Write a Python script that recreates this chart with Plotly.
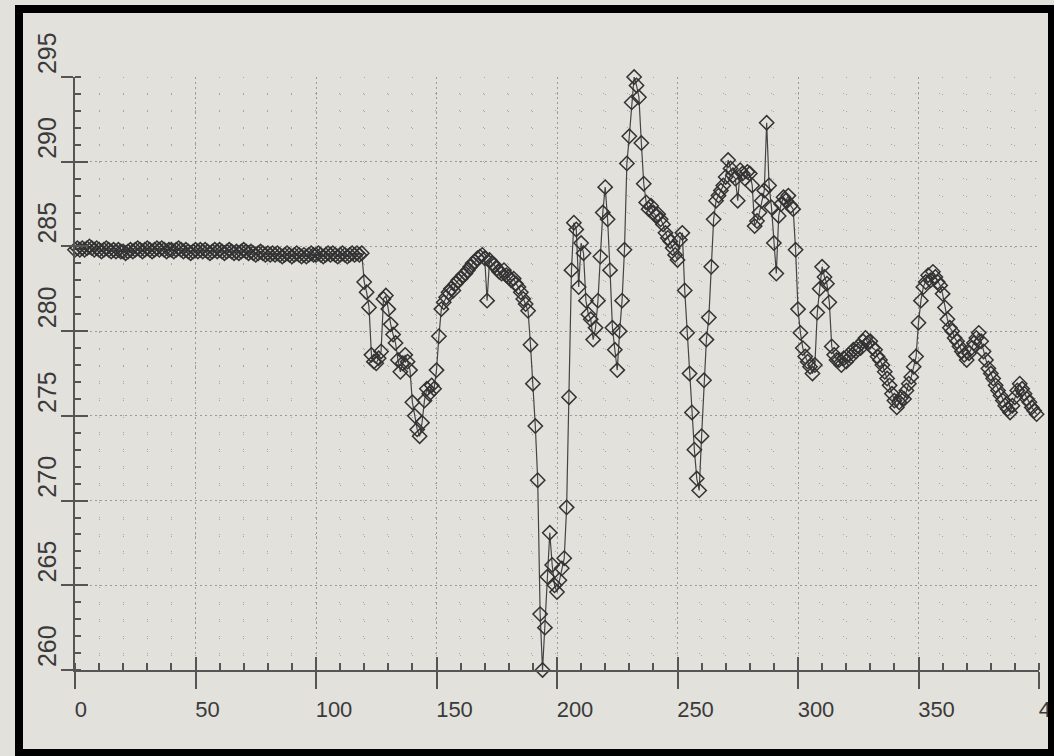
import plotly.graph_objects as go

# ---------------- data ----------------
x_values = list(range(0, 400))

y_flat = [
    284.8, 284.9, 284.8, 284.9, 284.8, 284.9, 285.0, 284.9, 284.8, 284.9, 284.8, 284.7, 284.8, 284.9, 284.8, 284.7, 284.8, 284.7, 284.8, 284.7,
    284.7, 284.6, 284.7, 284.8, 284.7, 284.8, 284.9, 284.8, 284.7, 284.8, 284.9, 284.8, 284.7, 284.8, 284.9, 284.8, 284.9, 284.8, 284.7, 284.8,
    284.8, 284.7, 284.8, 284.9, 284.8, 284.7, 284.8, 284.7, 284.6, 284.7, 284.8, 284.7, 284.8, 284.7, 284.8, 284.7, 284.6, 284.7, 284.8, 284.7,
    284.8, 284.7, 284.6, 284.7, 284.8, 284.7, 284.6, 284.7, 284.6, 284.7, 284.8, 284.7, 284.6, 284.7, 284.6, 284.5, 284.6, 284.7, 284.6, 284.5,
    284.6, 284.5, 284.6, 284.5, 284.6, 284.5, 284.4, 284.5, 284.6, 284.5, 284.4, 284.5, 284.6, 284.5, 284.4, 284.5, 284.4, 284.5, 284.6, 284.5,
    284.5, 284.6, 284.5, 284.4, 284.5, 284.6, 284.5, 284.6, 284.5, 284.4, 284.5, 284.6, 284.5, 284.4, 284.5, 284.6, 284.5, 284.6, 284.5, 284.6,
]

y_varying = [
    282.9, 282.3, 281.4, 278.6, 278.2, 278.1, 278.4, 278.8, 281.9, 282.1,
    281.3, 280.4, 279.8, 279.3, 278.3, 277.6, 278.1, 278.6, 278.2, 277.7,
    275.8, 275.0, 274.2, 273.8, 274.6, 275.9, 276.6, 276.3, 276.8, 276.6,
    277.7, 279.7, 281.3, 281.7, 282.0, 282.3, 282.5, 282.4, 282.8, 283.0,
    283.1, 283.3, 283.4, 283.6, 283.8, 284.0, 284.1, 284.3, 284.4, 284.5,
    284.3, 281.8, 284.2, 284.0, 283.9, 283.7, 283.5, 283.4, 283.6, 283.3,
    283.2, 283.0, 283.1, 282.8, 282.6, 282.3, 281.9, 281.6, 281.2, 279.2,
    276.9, 274.4, 271.2, 263.3, 260.0, 262.5, 265.5, 268.1, 266.2, 265.0,
    264.6, 265.3, 266.0, 266.6, 269.6, 276.1, 283.6, 286.4, 286.0, 282.6,
    285.2, 284.6, 281.8, 281.0, 280.7, 279.5, 280.2, 281.8, 284.4, 287.0,
    288.5, 286.6, 283.6, 280.2, 278.9, 277.7, 280.0, 281.8, 284.8, 289.9,
    291.5, 293.5, 295.0, 294.5, 293.8, 291.1, 288.7, 287.6, 287.2, 287.4,
    287.0, 286.8, 286.9, 286.6, 286.3, 285.8, 285.5, 285.3, 284.9, 284.5,
    284.2, 285.4, 285.8, 282.4, 279.9, 277.5, 275.2, 273.0, 271.3, 270.6,
    273.8, 277.1, 279.5, 280.8, 283.8, 286.6, 287.7, 288.0, 288.3, 288.6,
    289.1, 290.1, 289.6, 289.2, 289.0, 287.7, 289.5, 289.3, 289.0, 289.4,
    289.3, 288.6, 286.2, 286.5, 287.0, 287.7, 288.3, 292.3, 288.6, 287.3,
    285.2, 283.4, 286.8, 287.5, 287.9, 287.7, 288.0, 287.4, 287.2, 284.8,
    281.3, 279.9, 279.0, 278.5, 278.2, 277.9, 277.5, 278.0, 281.1, 282.5,
    283.8, 283.2, 282.8, 281.7, 279.1, 278.6, 278.3, 278.3, 278.0, 278.4,
    278.2, 278.6, 278.5, 278.9, 278.8, 279.1, 279.0, 279.4, 279.6, 279.3,
    279.4, 279.0, 278.9, 278.5, 278.3, 278.0, 277.6, 277.2, 276.8, 276.3,
    275.9, 275.5, 275.8, 276.1, 276.0, 276.5, 276.9, 277.3, 277.9, 278.5,
    280.5, 281.8, 282.6, 282.9, 283.3, 283.0, 283.5, 283.2, 282.9, 282.7,
    282.2, 281.4, 280.7, 280.2, 280.0, 279.6, 279.4, 279.1, 278.8, 278.6,
    278.3, 278.7, 279.0, 279.3, 279.6, 279.9, 279.4, 278.8, 278.3, 277.8,
    277.5, 277.2, 276.8, 276.5, 276.2, 275.9, 275.6, 275.4, 275.2, 275.6,
    276.1, 276.5, 276.9, 276.6, 276.3, 276.0, 275.8, 275.5, 275.3, 275.1,
]

y_values = y_flat + y_varying

x_tick_vals = [0, 50, 100, 150, 200, 250, 300, 350, 400]
x_tick_labels = ["0", "50", "100", "150", "200", "250", "300", "350", "400"]
y_tick_vals = [260, 265, 270, 275, 280, 285, 290, 295]
y_tick_labels = ["260", "265", "270", "275", "280", "285", "290", "295"]

# ---------------- style ----------------
W, H = 1054, 756
ML, MR, MT, MB = 75, 15, 77, 86
BG = "#e3e1dc"
AX = "#555555"
FONT = dict(family="Liberation Sans, Arial, sans-serif", size=22, color="#3a3a3a")
YFONT = dict(family="Liberation Sans, Arial, sans-serif", size=25, color="#3a3a3a")

# left-align x labels: pad to equal width with no-break spaces (2 nbsp ~ 1 digit)
x_tick_text = [s + "\u00a0" * (2 * (3 - len(s))) for s in x_tick_labels]

PW, PH = W - ML - MR, H - MT - MB


def px_to_paper_x(px):
    return (px - ML) / PW


def py_to_paper_y(py):
    return (H - MB - py) / PH


fig = go.Figure()
fig.add_trace(go.Scatter(
    x=x_values, y=y_values, mode="lines+markers",
    line=dict(color="#444444", width=1.2),
    marker=dict(symbol="diamond-open", size=11, color="#333333", line=dict(width=1.5)),
    cliponaxis=False, showlegend=False,
))
# helper trace for overlay axes (inner half of crossing major ticks)
fig.add_trace(go.Scatter(x=[None], y=[None], xaxis="x2", yaxis="y2",
                         showlegend=False, hoverinfo="skip"))

fig.update_layout(
    width=W, height=H,
    margin=dict(l=ML, r=MR, t=MT, b=MB, pad=0),
    paper_bgcolor=BG, plot_bgcolor=BG,
    font=FONT,
    xaxis=dict(
        range=[0, 400], tickmode="array", tickvals=x_tick_vals, ticktext=x_tick_text,
        ticks="outside", ticklen=17, tickwidth=2, tickcolor=AX,
        showline=True, linecolor=AX, linewidth=2,
        showgrid=True, gridcolor="#9a9a9a", gridwidth=1, griddash="2px,3px",
        zeroline=False, tickfont=FONT, ticklabelshift=18, ticklabelstandoff=2,
        ticklabeloverflow="allow", automargin=False,
        minor=dict(dtick=10, tick0=0, ticks="inside", ticklen=7, tickwidth=1.5, tickcolor=AX,
                   showgrid=True, gridcolor="#a8a8a8", gridwidth=1, griddash="1px,16px"),
    ),
    yaxis=dict(
        range=[260, 295], tickmode="array", tickvals=y_tick_vals, ticktext=y_tick_labels,
        ticks="outside", ticklen=12, tickwidth=2, tickcolor=AX, tickangle=-90,
        showline=True, linecolor=AX, linewidth=2,
        showgrid=True, gridcolor="#9a9a9a", gridwidth=1, griddash="2px,3px",
        zeroline=False, tickfont=YFONT, ticklabelshift=-20, ticklabelstandoff=-5,
        ticklabeloverflow="allow", automargin=False,
        minor=dict(dtick=1, tick0=0, ticks="inside", ticklen=6, tickwidth=1.5, tickcolor=AX,
                   showgrid=True, gridcolor="#a8a8a8", gridwidth=1, griddash="1px,23px"),
    ),
    xaxis2=dict(
        overlaying="x", matches="x", anchor="y", side="bottom",
        tickmode="array", tickvals=x_tick_vals, showticklabels=False,
        ticks="inside", ticklen=13, tickwidth=2, tickcolor=AX,
        showline=False, showgrid=False, zeroline=False,
    ),
    yaxis2=dict(
        overlaying="y", matches="y", anchor="x", side="left",
        tickmode="array", tickvals=y_tick_vals, showticklabels=False,
        ticks="inside", ticklen=13, tickwidth=2, tickcolor=AX,
        showline=False, showgrid=False, zeroline=False,
    ),
    shapes=[dict(
        type="rect", xref="paper", yref="paper", layer="above",
        x0=px_to_paper_x(19), x1=px_to_paper_x(1052),
        y0=py_to_paper_y(753), y1=py_to_paper_y(9),
        line=dict(color="black", width=8), fillcolor="rgba(0,0,0,0)",
    )],
)

fig.write_html(
    "out.html",
    config={"displayModeBar": False},
    post_script="document.body.style.margin='0';document.body.style.overflow='hidden';"
                "document.body.style.background='" + BG + "';",
)
